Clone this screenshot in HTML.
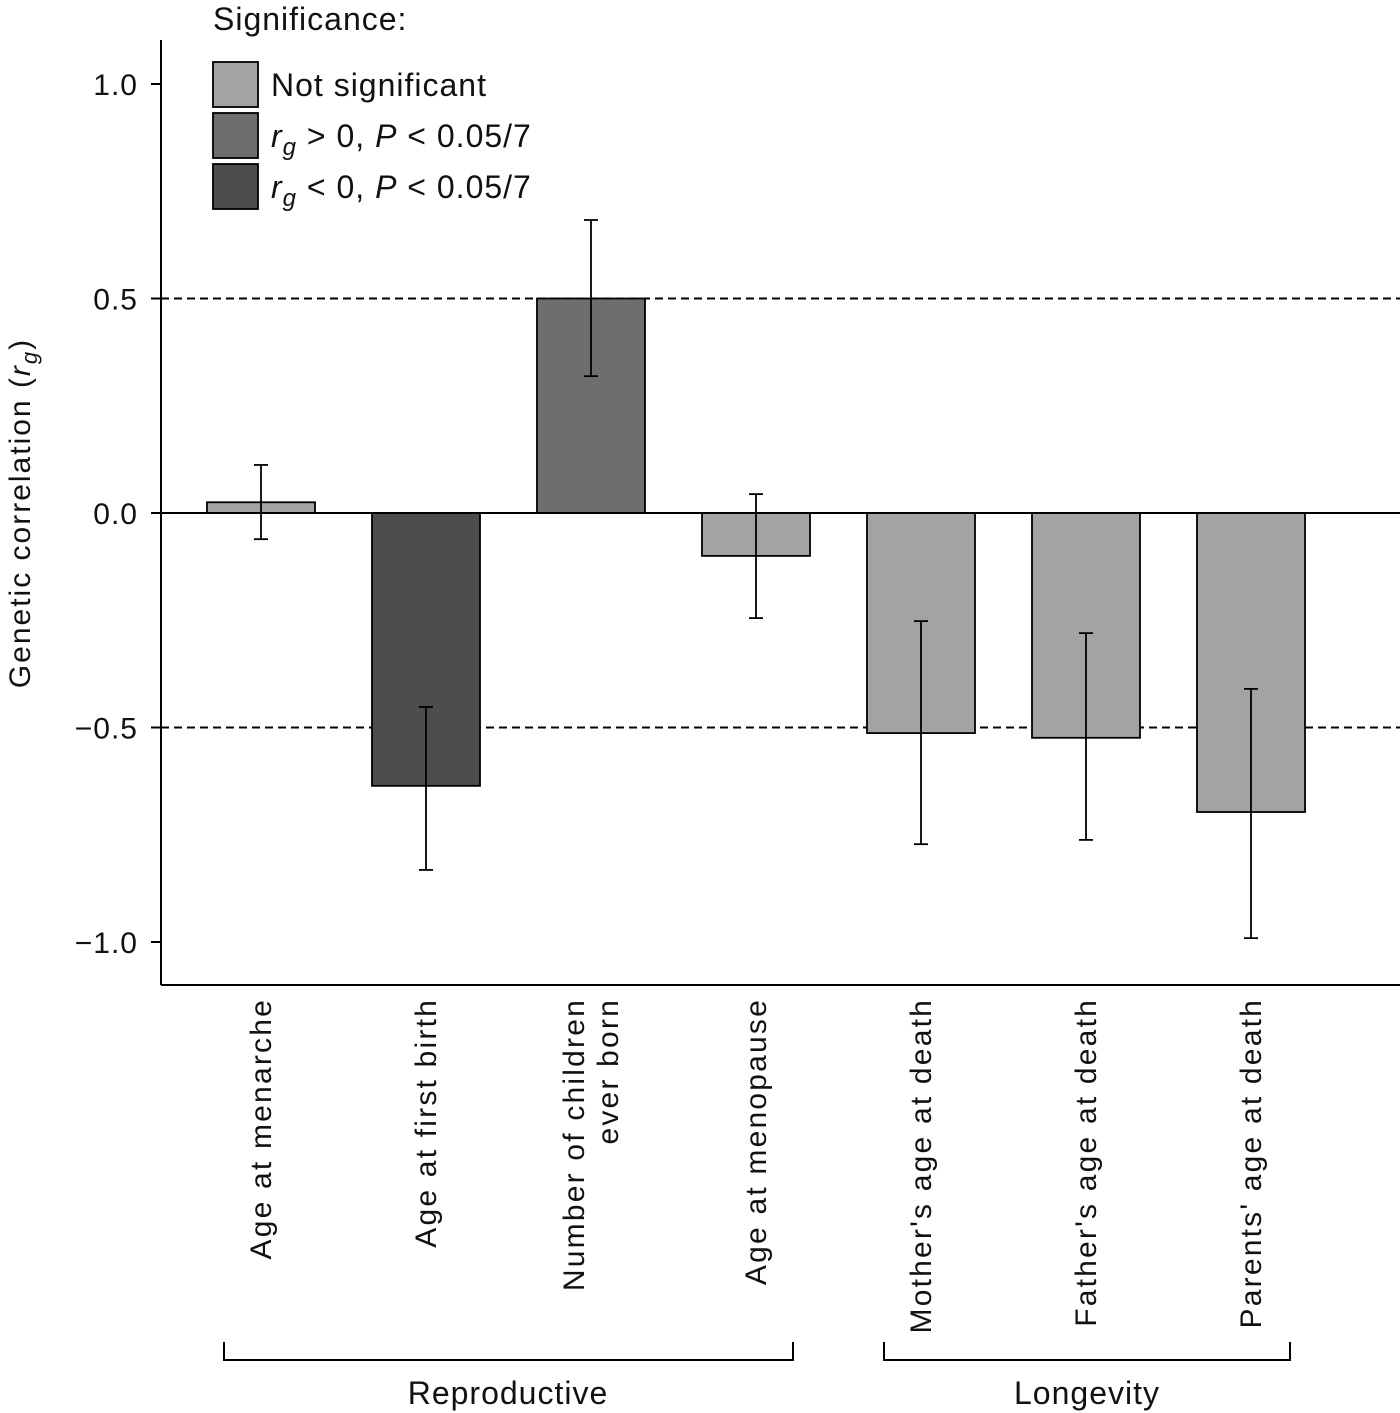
<!DOCTYPE html>
<html><head><meta charset="utf-8"><style>
html,body{margin:0;padding:0;background:#fff;}
svg{display:block;font-family:"Liberation Sans","DejaVu Sans",sans-serif;}
</style></head><body>
<svg id="chart" width="1400" height="1413" viewBox="0 0 1400 1413" xmlns="http://www.w3.org/2000/svg">
<g id="plot"></g>
</svg>
<script>
const categories = ["Age at menarche","Age at first birth","Number of children|ever born","Age at menopause","Mother's age at death","Father's age at death","Parents' age at death"];
const values = [0.025,-0.636,0.5,-0.10,-0.513,-0.524,-0.697];
const errHigh = [0.112,-0.452,0.683,0.044,-0.252,-0.28,-0.41];
const errLow = [-0.061,-0.832,0.319,-0.245,-0.772,-0.762,-0.991];
const significance = ["ns","neg","pos","ns","ns","ns","ns"];
const yTicks = [1.0,0.5,0.0,-0.5,-1.0];
const yTickLabels = ["1.0","0.5","0.0","\u22120.5","\u22121.0"];

const NS="http://www.w3.org/2000/svg";
const g=document.getElementById('plot');
const colors={ns:"#a3a3a3",pos:"#6e6e6e",neg:"#4d4d4d"};
const y0=513, ppu=429, left=161, right=1400, x0=261, step=165, bw=108;
const y=v=>y0-v*ppu;
const x=i=>x0+i*step;
function mk(tag,attrs,parent){const e=document.createElementNS(NS,tag);for(const k in attrs)e.setAttribute(k,attrs[k]);(parent||g).appendChild(e);return e;}

[0.5,-0.5].forEach(v=>{const l=mk('line',{x1:left,x2:right,y1:y(v),y2:y(v),stroke:"#000","stroke-width":2,"stroke-dasharray":"8,5"});

});

values.forEach((v,i)=>{
 const r=mk('rect',{x:x(i)-bw/2,y:Math.min(y(v),y0),width:bw,height:Math.abs(y(v)-y0),fill:colors[significance[i]],stroke:"#000","stroke-width":1.8});
 
 
});
const zl=mk('line',{x1:left,x2:right,y1:y0,y2:y0,stroke:"#000","stroke-width":2});


values.forEach((v,i)=>{
 const eg=mk('g',{stroke:"#000","stroke-width":1.8});
 
 
 mk('line',{x1:x(i),x2:x(i),y1:y(errHigh[i]),y2:y(errLow[i])},eg);
 mk('line',{x1:x(i)-7,x2:x(i)+7,y1:y(errHigh[i]),y2:y(errHigh[i])},eg);
 mk('line',{x1:x(i)-7,x2:x(i)+7,y1:y(errLow[i]),y2:y(errLow[i])},eg);
});
const ax=mk('g',{stroke:"#000","stroke-width":2});


mk('line',{x1:left,x2:left,y1:40,y2:985},ax);
mk('line',{x1:left,x2:right,y1:985,y2:985},ax);
yTicks.forEach((t,i)=>{
 mk('line',{x1:left-10,x2:left,y1:y(t),y2:y(t)},ax);
 const tx=mk('text',{x:138,y:y(t)+11,"text-anchor":"end","font-size":30,"letter-spacing":1,fill:"#111"});
 tx.textContent=yTickLabels[i];
 
 
});
categories.forEach((c,i)=>{
 const lines=c.split('|');
 const n=lines.length;
 lines.forEach((ln,j)=>{
  const cx=x(i)+10-(n-1-j)*34+(n-1)*17;
  const t=mk('text',{x:0,y:0,"text-anchor":"end","font-size":30,"letter-spacing":2.2,fill:"#111",transform:`translate(${cx},998) rotate(-90)`});
  t.textContent=ln;
  
  
 });
});
</script>
<svg style="position:absolute;left:0;top:0" width="1400" height="1413">
<text x="20" y="513" transform="rotate(-90 20 513)" text-anchor="middle" dy="10" font-size="30" letter-spacing="2" fill="#111">Genetic correlation (<tspan font-style="italic">r</tspan><tspan font-style="italic" font-size="22" dy="7">g</tspan><tspan dy="-7">)</tspan></text>
<g font-size="32" letter-spacing="1" fill="#111">
<text x="213" y="30">Significance:</text>
<rect x="213" y="62" width="45" height="45" fill="#a3a3a3" stroke="#000" stroke-width="1.8"/>
<text x="271" y="96">Not significant</text>
<rect x="213" y="113" width="45" height="45" fill="#6e6e6e" stroke="#000" stroke-width="1.8"/>
<text x="271" y="147"><tspan font-style="italic">r</tspan><tspan font-style="italic" font-size="24" dy="8">g</tspan><tspan dy="-8"> &gt; 0, </tspan><tspan font-style="italic">P</tspan> &lt; 0.05/7</text>
<rect x="213" y="164" width="45" height="45" fill="#4d4d4d" stroke="#000" stroke-width="1.8"/>
<text x="271" y="198"><tspan font-style="italic">r</tspan><tspan font-style="italic" font-size="24" dy="8">g</tspan><tspan dy="-8"> &lt; 0, </tspan><tspan font-style="italic">P</tspan> &lt; 0.05/7</text>
</g>
<g stroke="#000" stroke-width="2" fill="none">
<path d="M224 1342 V1360 H793 V1342"/>
<path d="M884 1342 V1360 H1290 V1342"/>
</g>
<text x="508" y="1404" text-anchor="middle" font-size="32" letter-spacing="1" fill="#111">Reproductive</text>
<text x="1087" y="1404" text-anchor="middle" font-size="32" letter-spacing="1" fill="#111">Longevity</text>
</svg>
</body></html>
